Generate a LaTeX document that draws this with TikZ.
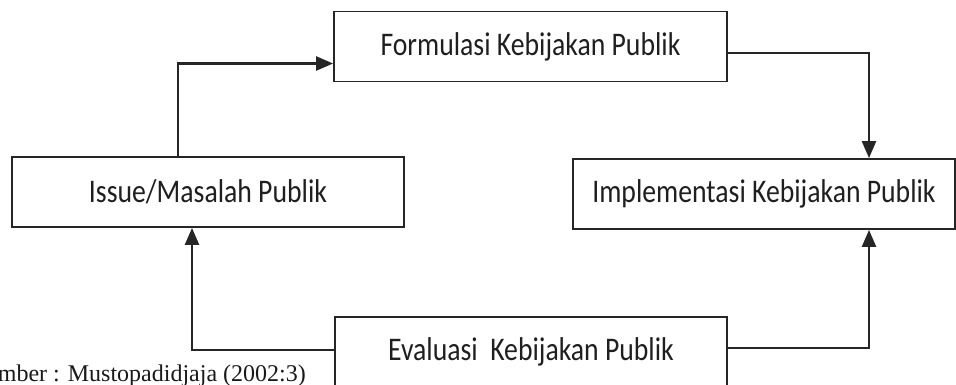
\documentclass[tikz,border=0pt]{standalone}
\usepackage{fontspec}
\setmainfont{Carlito}
\newfontfamily\srcfont{Liberation Serif}
\usepackage{tikz}
\usetikzlibrary{
  arrows.meta,
  positioning
}
% the labels are set in a narrowed Carlito
\newcommand{\narrow}[1]{\scalebox{0.84}[1]{#1}}

\begin{document}
\begin{tikzpicture}[
      x=1pt,y=-1pt,
      stage/.style={
         rectangle,
         draw=black!85,
         line width=1.8pt,
         minimum height=70pt,
         inner sep=0pt,
         text=black!88,
         font=\fontsize{33}{38}\selectfont
      },
      tip/.style={-{Triangle[length=17pt,width=14pt]},line width=2.4pt,draw=black!85},
      source/.style={font=\srcfont\fontsize{24}{28}\selectfont,text=black!90,inner sep=0pt}
    ]
    \useasboundingbox (0,0) rectangle (956,384);
    \clip (0,0) rectangle (956,384);
    % the four stages of the cycle
    \node (form) [stage, minimum width=393pt] at (530.5,46.5) {\narrow{Formulasi Kebijakan Publik}};
    \node (iss)  [stage, minimum width=392pt] at (208,192) {\narrow{Issue/Masalah Publik}};
    \node (impl) [stage, minimum width=382pt] at (764,194) {\narrow{Implementasi Kebijakan Publik}};
    \node (eval) [stage, minimum width=392pt] at (531,352) {\narrow{Evaluasi\ \ Kebijakan Publik}};
    % source line, cut off at the left border
    \node (src) [source, anchor=base east] at (306,381) {Sumber : Mustopadidjaja (2002:3)};
    % connectors
    \draw[tip] ([xshift=-30pt]iss.north) |- ([yshift=-17pt]form.west);
    \draw[tip] ([yshift=-6.5pt]form.east) -| ([xshift=105pt]impl.north);
    \draw[tip] ([yshift=2pt]eval.west) -| ([xshift=-16pt]iss.south);
    \draw[tip] ([yshift=4pt]eval.east) -| ([xshift=105pt]impl.south);
\end{tikzpicture}
\end{document}
